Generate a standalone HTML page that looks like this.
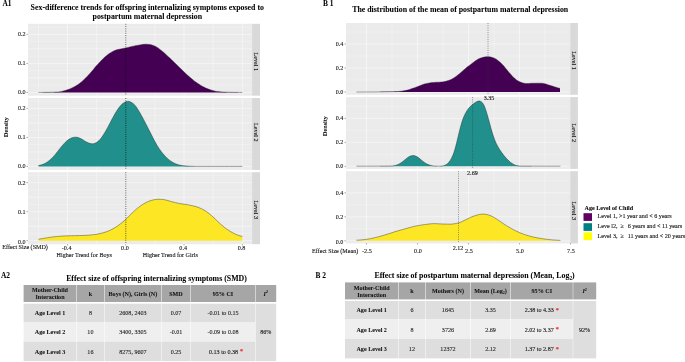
<!DOCTYPE html>
<html lang="en"><head><meta charset="utf-8"><title>Figure</title>
<style>
html,body{margin:0;padding:0;background:#fff;}
body{width:685px;height:362px;overflow:hidden;}
svg{display:block;}
svg text{font-family:"Liberation Serif","DejaVu Serif",serif;stroke:#111;stroke-width:0.1px;stroke-linejoin:round;}
</style></head><body>
<svg width="685" height="362" viewBox="0 0 685 362">
<rect width="685" height="362" fill="#fff"/>
<rect x="28.0" y="23.8" width="224.10" height="71.9" fill="#EBEBEB"/>
<rect x="252.1" y="23.8" width="7.90" height="71.9" fill="#D9D9D9"/>
<g stroke="#fff" fill="none"><path d="M38.38 23.8V95.70" stroke-width="0.38"/><path d="M96.66 23.8V95.70" stroke-width="0.38"/><path d="M154.94 23.8V95.70" stroke-width="0.38"/><path d="M213.22 23.8V95.70" stroke-width="0.38"/><path d="M67.52 23.8V95.70" stroke-width="0.5"/><path d="M125.80 23.8V95.70" stroke-width="0.5"/><path d="M184.08 23.8V95.70" stroke-width="0.5"/><path d="M242.36 23.8V95.70" stroke-width="0.5"/><path d="M28.0 85.15H252.1" stroke-width="0.25"/><path d="M28.0 70.65H252.1" stroke-width="0.25"/><path d="M28.0 56.15H252.1" stroke-width="0.25"/><path d="M28.0 41.65H252.1" stroke-width="0.25"/><path d="M28.0 27.15H252.1" stroke-width="0.25"/><path d="M28.0 92.40H252.1" stroke-width="0.45"/><path d="M28.0 77.90H252.1" stroke-width="0.45"/><path d="M28.0 63.40H252.1" stroke-width="0.45"/><path d="M28.0 48.90H252.1" stroke-width="0.45"/><path d="M28.0 34.40H252.1" stroke-width="0.45"/></g>
<rect x="28.0" y="98.0" width="224.10" height="71.9" fill="#EBEBEB"/>
<rect x="252.1" y="98.0" width="7.90" height="71.9" fill="#D9D9D9"/>
<g stroke="#fff" fill="none"><path d="M38.38 98.0V169.90" stroke-width="0.38"/><path d="M96.66 98.0V169.90" stroke-width="0.38"/><path d="M154.94 98.0V169.90" stroke-width="0.38"/><path d="M213.22 98.0V169.90" stroke-width="0.38"/><path d="M67.52 98.0V169.90" stroke-width="0.5"/><path d="M125.80 98.0V169.90" stroke-width="0.5"/><path d="M184.08 98.0V169.90" stroke-width="0.5"/><path d="M242.36 98.0V169.90" stroke-width="0.5"/><path d="M28.0 159.15H252.1" stroke-width="0.25"/><path d="M28.0 144.65H252.1" stroke-width="0.25"/><path d="M28.0 130.15H252.1" stroke-width="0.25"/><path d="M28.0 115.65H252.1" stroke-width="0.25"/><path d="M28.0 101.15H252.1" stroke-width="0.25"/><path d="M28.0 166.40H252.1" stroke-width="0.45"/><path d="M28.0 151.90H252.1" stroke-width="0.45"/><path d="M28.0 137.40H252.1" stroke-width="0.45"/><path d="M28.0 122.90H252.1" stroke-width="0.45"/><path d="M28.0 108.40H252.1" stroke-width="0.45"/></g>
<rect x="28.0" y="172.2" width="224.10" height="72.0" fill="#EBEBEB"/>
<rect x="252.1" y="172.2" width="7.90" height="72.0" fill="#D9D9D9"/>
<g stroke="#fff" fill="none"><path d="M38.38 172.2V244.20" stroke-width="0.38"/><path d="M96.66 172.2V244.20" stroke-width="0.38"/><path d="M154.94 172.2V244.20" stroke-width="0.38"/><path d="M213.22 172.2V244.20" stroke-width="0.38"/><path d="M67.52 172.2V244.20" stroke-width="0.5"/><path d="M125.80 172.2V244.20" stroke-width="0.5"/><path d="M184.08 172.2V244.20" stroke-width="0.5"/><path d="M242.36 172.2V244.20" stroke-width="0.5"/><path d="M28.0 233.45H252.1" stroke-width="0.25"/><path d="M28.0 218.95H252.1" stroke-width="0.25"/><path d="M28.0 204.45H252.1" stroke-width="0.25"/><path d="M28.0 189.95H252.1" stroke-width="0.25"/><path d="M28.0 175.45H252.1" stroke-width="0.25"/><path d="M28.0 240.70H252.1" stroke-width="0.45"/><path d="M28.0 226.20H252.1" stroke-width="0.45"/><path d="M28.0 211.70H252.1" stroke-width="0.45"/><path d="M28.0 197.20H252.1" stroke-width="0.45"/><path d="M28.0 182.70H252.1" stroke-width="0.45"/></g>
<path d="M38.40 92.40L38.40 92.40L39.68 92.40L40.97 92.39L42.25 92.38L43.53 92.37L44.82 92.36L46.10 92.34L47.38 92.31L48.66 92.29L49.95 92.26L51.23 92.23L52.51 92.19L53.80 92.15L55.08 92.11L56.36 92.06L57.65 91.99L58.93 91.88L60.21 91.71L61.49 91.47L62.78 91.17L64.06 90.83L65.34 90.44L66.63 90.04L67.91 89.61L69.19 89.14L70.48 88.63L71.76 88.06L73.04 87.44L74.32 86.76L75.61 86.03L76.89 85.26L78.17 84.42L79.46 83.50L80.74 82.50L82.02 81.40L83.31 80.23L84.59 79.01L85.87 77.74L87.15 76.44L88.44 75.09L89.72 73.69L91.00 72.22L92.29 70.70L93.57 69.16L94.85 67.62L96.14 66.12L97.42 64.67L98.70 63.27L99.98 61.90L101.27 60.56L102.55 59.25L103.83 57.99L105.12 56.80L106.40 55.70L107.68 54.70L108.97 53.78L110.25 52.93L111.53 52.14L112.82 51.43L114.10 50.81L115.38 50.29L116.66 49.86L117.95 49.52L119.23 49.22L120.51 48.96L121.80 48.72L123.08 48.48L124.36 48.24L125.65 47.97L126.93 47.68L128.21 47.38L129.49 47.07L130.78 46.75L132.06 46.45L133.34 46.15L134.63 45.88L135.91 45.62L137.19 45.38L138.48 45.14L139.76 44.91L141.04 44.70L142.32 44.51L143.61 44.37L144.89 44.28L146.17 44.24L147.46 44.28L148.74 44.39L150.02 44.59L151.31 44.87L152.59 45.22L153.87 45.65L155.15 46.19L156.44 46.88L157.72 47.71L159.00 48.64L160.29 49.64L161.57 50.67L162.85 51.74L164.14 52.85L165.42 54.00L166.70 55.19L167.98 56.39L169.27 57.59L170.55 58.81L171.83 60.04L173.12 61.28L174.40 62.52L175.68 63.76L176.97 65.00L178.25 66.25L179.53 67.50L180.82 68.76L182.10 70.02L183.38 71.27L184.66 72.50L185.95 73.71L187.23 74.89L188.51 76.03L189.80 77.15L191.08 78.26L192.36 79.33L193.65 80.38L194.93 81.38L196.21 82.33L197.49 83.23L198.78 84.08L200.06 84.89L201.34 85.67L202.63 86.42L203.91 87.12L205.19 87.77L206.48 88.35L207.76 88.87L209.04 89.34L210.32 89.78L211.61 90.18L212.89 90.55L214.17 90.89L215.46 91.17L216.74 91.39L218.02 91.57L219.31 91.71L220.59 91.82L221.87 91.91L223.15 91.99L224.44 92.06L225.72 92.12L227.00 92.17L228.29 92.20L229.57 92.23L230.85 92.26L232.14 92.29L233.42 92.31L234.70 92.33L235.98 92.35L237.27 92.37L238.55 92.38L239.83 92.39L241.12 92.40L242.40 92.40L242.40 92.40 Z" fill="#440154"/>
<path d="M38.40 92.40L39.68 92.40L40.97 92.39L42.25 92.38L43.53 92.37L44.82 92.36L46.10 92.34L47.38 92.31L48.66 92.29L49.95 92.26L51.23 92.23L52.51 92.19L53.80 92.15L55.08 92.11L56.36 92.06L57.65 91.99L58.93 91.88L60.21 91.71L61.49 91.47L62.78 91.17L64.06 90.83L65.34 90.44L66.63 90.04L67.91 89.61L69.19 89.14L70.48 88.63L71.76 88.06L73.04 87.44L74.32 86.76L75.61 86.03L76.89 85.26L78.17 84.42L79.46 83.50L80.74 82.50L82.02 81.40L83.31 80.23L84.59 79.01L85.87 77.74L87.15 76.44L88.44 75.09L89.72 73.69L91.00 72.22L92.29 70.70L93.57 69.16L94.85 67.62L96.14 66.12L97.42 64.67L98.70 63.27L99.98 61.90L101.27 60.56L102.55 59.25L103.83 57.99L105.12 56.80L106.40 55.70L107.68 54.70L108.97 53.78L110.25 52.93L111.53 52.14L112.82 51.43L114.10 50.81L115.38 50.29L116.66 49.86L117.95 49.52L119.23 49.22L120.51 48.96L121.80 48.72L123.08 48.48L124.36 48.24L125.65 47.97L126.93 47.68L128.21 47.38L129.49 47.07L130.78 46.75L132.06 46.45L133.34 46.15L134.63 45.88L135.91 45.62L137.19 45.38L138.48 45.14L139.76 44.91L141.04 44.70L142.32 44.51L143.61 44.37L144.89 44.28L146.17 44.24L147.46 44.28L148.74 44.39L150.02 44.59L151.31 44.87L152.59 45.22L153.87 45.65L155.15 46.19L156.44 46.88L157.72 47.71L159.00 48.64L160.29 49.64L161.57 50.67L162.85 51.74L164.14 52.85L165.42 54.00L166.70 55.19L167.98 56.39L169.27 57.59L170.55 58.81L171.83 60.04L173.12 61.28L174.40 62.52L175.68 63.76L176.97 65.00L178.25 66.25L179.53 67.50L180.82 68.76L182.10 70.02L183.38 71.27L184.66 72.50L185.95 73.71L187.23 74.89L188.51 76.03L189.80 77.15L191.08 78.26L192.36 79.33L193.65 80.38L194.93 81.38L196.21 82.33L197.49 83.23L198.78 84.08L200.06 84.89L201.34 85.67L202.63 86.42L203.91 87.12L205.19 87.77L206.48 88.35L207.76 88.87L209.04 89.34L210.32 89.78L211.61 90.18L212.89 90.55L214.17 90.89L215.46 91.17L216.74 91.39L218.02 91.57L219.31 91.71L220.59 91.82L221.87 91.91L223.15 91.99L224.44 92.06L225.72 92.12L227.00 92.17L228.29 92.20L229.57 92.23L230.85 92.26L232.14 92.29L233.42 92.31L234.70 92.33L235.98 92.35L237.27 92.37L238.55 92.38L239.83 92.39L241.12 92.40L242.40 92.40" fill="none" stroke="#1a1a1a" stroke-width="0.4" stroke-linejoin="round"/>
<path d="M38.40 166.40L38.40 165.49L39.68 165.30L40.97 165.00L42.25 164.60L43.53 164.11L44.82 163.52L46.10 162.80L47.38 161.96L48.66 161.01L49.95 159.94L51.23 158.77L52.51 157.50L53.80 156.13L55.08 154.66L56.36 153.08L57.65 151.43L58.93 149.79L60.21 148.17L61.49 146.60L62.78 145.08L64.06 143.64L65.34 142.32L66.63 141.11L67.91 140.04L69.19 139.12L70.48 138.39L71.76 137.86L73.04 137.49L74.32 137.25L75.61 137.16L76.89 137.26L78.17 137.55L79.46 138.00L80.74 138.57L82.02 139.27L83.31 140.07L84.59 140.91L85.87 141.70L87.15 142.35L88.44 142.89L89.72 143.32L91.00 143.63L92.29 143.78L93.57 143.70L94.85 143.33L96.14 142.71L97.42 141.87L98.70 140.80L99.98 139.47L101.27 137.89L102.55 136.09L103.83 134.14L105.12 132.04L106.40 129.78L107.68 127.40L108.97 124.97L110.25 122.53L111.53 120.10L112.82 117.69L114.10 115.34L115.38 113.12L116.66 111.03L117.95 109.06L119.23 107.25L120.51 105.67L121.80 104.37L123.08 103.32L124.36 102.47L125.65 101.81L126.93 101.39L128.21 101.28L129.49 101.49L130.78 101.99L132.06 102.72L133.34 103.67L134.63 104.89L135.91 106.44L137.19 108.31L138.48 110.40L139.76 112.59L141.04 114.83L142.32 117.12L143.61 119.48L144.89 121.91L146.17 124.38L147.46 126.91L148.74 129.48L150.02 132.05L151.31 134.60L152.59 137.12L153.87 139.58L155.15 141.98L156.44 144.28L157.72 146.42L159.00 148.42L160.29 150.27L161.57 151.99L162.85 153.59L164.14 155.07L165.42 156.45L166.70 157.73L167.98 158.90L169.27 159.96L170.55 160.92L171.83 161.78L173.12 162.55L174.40 163.23L175.68 163.81L176.97 164.30L178.25 164.72L179.53 165.07L180.82 165.35L182.10 165.57L183.38 165.73L184.66 165.86L185.95 165.96L187.23 166.05L188.51 166.12L189.80 166.19L191.08 166.25L192.36 166.30L193.65 166.35L194.93 166.38L196.21 166.39L197.49 166.40L198.78 166.40L200.06 166.40L201.34 166.40L202.63 166.40L203.91 166.40L205.19 166.40L206.48 166.40L207.76 166.40L209.04 166.40L210.32 166.40L211.61 166.40L212.89 166.40L214.17 166.40L215.46 166.40L216.74 166.40L218.02 166.40L219.31 166.40L220.59 166.40L221.87 166.40L223.15 166.40L224.44 166.40L225.72 166.40L227.00 166.40L228.29 166.40L229.57 166.40L230.85 166.40L232.14 166.40L233.42 166.40L234.70 166.40L235.98 166.40L237.27 166.40L238.55 166.40L239.83 166.40L241.12 166.40L242.40 166.40L242.40 166.40 Z" fill="#21908C"/>
<path d="M38.40 165.49L39.68 165.30L40.97 165.00L42.25 164.60L43.53 164.11L44.82 163.52L46.10 162.80L47.38 161.96L48.66 161.01L49.95 159.94L51.23 158.77L52.51 157.50L53.80 156.13L55.08 154.66L56.36 153.08L57.65 151.43L58.93 149.79L60.21 148.17L61.49 146.60L62.78 145.08L64.06 143.64L65.34 142.32L66.63 141.11L67.91 140.04L69.19 139.12L70.48 138.39L71.76 137.86L73.04 137.49L74.32 137.25L75.61 137.16L76.89 137.26L78.17 137.55L79.46 138.00L80.74 138.57L82.02 139.27L83.31 140.07L84.59 140.91L85.87 141.70L87.15 142.35L88.44 142.89L89.72 143.32L91.00 143.63L92.29 143.78L93.57 143.70L94.85 143.33L96.14 142.71L97.42 141.87L98.70 140.80L99.98 139.47L101.27 137.89L102.55 136.09L103.83 134.14L105.12 132.04L106.40 129.78L107.68 127.40L108.97 124.97L110.25 122.53L111.53 120.10L112.82 117.69L114.10 115.34L115.38 113.12L116.66 111.03L117.95 109.06L119.23 107.25L120.51 105.67L121.80 104.37L123.08 103.32L124.36 102.47L125.65 101.81L126.93 101.39L128.21 101.28L129.49 101.49L130.78 101.99L132.06 102.72L133.34 103.67L134.63 104.89L135.91 106.44L137.19 108.31L138.48 110.40L139.76 112.59L141.04 114.83L142.32 117.12L143.61 119.48L144.89 121.91L146.17 124.38L147.46 126.91L148.74 129.48L150.02 132.05L151.31 134.60L152.59 137.12L153.87 139.58L155.15 141.98L156.44 144.28L157.72 146.42L159.00 148.42L160.29 150.27L161.57 151.99L162.85 153.59L164.14 155.07L165.42 156.45L166.70 157.73L167.98 158.90L169.27 159.96L170.55 160.92L171.83 161.78L173.12 162.55L174.40 163.23L175.68 163.81L176.97 164.30L178.25 164.72L179.53 165.07L180.82 165.35L182.10 165.57L183.38 165.73L184.66 165.86L185.95 165.96L187.23 166.05L188.51 166.12L189.80 166.19L191.08 166.25L192.36 166.30L193.65 166.35L194.93 166.38L196.21 166.39L197.49 166.40L198.78 166.40L200.06 166.40L201.34 166.40L202.63 166.40L203.91 166.40L205.19 166.40L206.48 166.40L207.76 166.40L209.04 166.40L210.32 166.40L211.61 166.40L212.89 166.40L214.17 166.40L215.46 166.40L216.74 166.40L218.02 166.40L219.31 166.40L220.59 166.40L221.87 166.40L223.15 166.40L224.44 166.40L225.72 166.40L227.00 166.40L228.29 166.40L229.57 166.40L230.85 166.40L232.14 166.40L233.42 166.40L234.70 166.40L235.98 166.40L237.27 166.40L238.55 166.40L239.83 166.40L241.12 166.40L242.40 166.40" fill="none" stroke="#1a1a1a" stroke-width="0.4" stroke-linejoin="round"/>
<path d="M38.40 240.70L38.40 239.27L39.68 239.09L40.97 238.85L42.25 238.60L43.53 238.36L44.82 238.13L46.10 237.91L47.38 237.70L48.66 237.51L49.95 237.33L51.23 237.15L52.51 236.99L53.80 236.83L55.08 236.69L56.36 236.56L57.65 236.44L58.93 236.33L60.21 236.23L61.49 236.14L62.78 236.06L64.06 235.98L65.34 235.91L66.63 235.86L67.91 235.81L69.19 235.77L70.48 235.74L71.76 235.72L73.04 235.70L74.32 235.67L75.61 235.65L76.89 235.62L78.17 235.59L79.46 235.56L80.74 235.52L82.02 235.47L83.31 235.43L84.59 235.37L85.87 235.31L87.15 235.24L88.44 235.16L89.72 235.06L91.00 234.94L92.29 234.81L93.57 234.65L94.85 234.48L96.14 234.29L97.42 234.08L98.70 233.85L99.98 233.59L101.27 233.29L102.55 232.95L103.83 232.58L105.12 232.18L106.40 231.75L107.68 231.28L108.97 230.77L110.25 230.19L111.53 229.56L112.82 228.87L114.10 228.13L115.38 227.36L116.66 226.54L117.95 225.67L119.23 224.76L120.51 223.79L121.80 222.78L123.08 221.73L124.36 220.64L125.65 219.50L126.93 218.30L128.21 217.03L129.49 215.71L130.78 214.38L132.06 213.09L133.34 211.86L134.63 210.69L135.91 209.57L137.19 208.49L138.48 207.45L139.76 206.45L141.04 205.52L142.32 204.66L143.61 203.87L144.89 203.16L146.17 202.50L147.46 201.89L148.74 201.33L150.02 200.85L151.31 200.44L152.59 200.09L153.87 199.79L155.15 199.55L156.44 199.37L157.72 199.28L159.00 199.26L160.29 199.30L161.57 199.39L162.85 199.51L164.14 199.67L165.42 199.90L166.70 200.21L167.98 200.58L169.27 200.97L170.55 201.36L171.83 201.73L173.12 202.06L174.40 202.38L175.68 202.68L176.97 202.97L178.25 203.24L179.53 203.49L180.82 203.72L182.10 203.92L183.38 204.11L184.66 204.29L185.95 204.48L187.23 204.69L188.51 204.91L189.80 205.15L191.08 205.41L192.36 205.69L193.65 205.99L194.93 206.33L196.21 206.70L197.49 207.12L198.78 207.59L200.06 208.12L201.34 208.69L202.63 209.32L203.91 210.01L205.19 210.78L206.48 211.63L207.76 212.57L209.04 213.57L210.32 214.61L211.61 215.70L212.89 216.83L214.17 218.01L215.46 219.25L216.74 220.50L218.02 221.73L219.31 222.93L220.59 224.09L221.87 225.20L223.15 226.29L224.44 227.33L225.72 228.33L227.00 229.27L228.29 230.15L229.57 230.97L230.85 231.74L232.14 232.47L233.42 233.15L234.70 233.78L235.98 234.36L237.27 234.89L238.55 235.37L239.83 235.81L241.12 236.17L242.40 236.43L242.40 240.70 Z" fill="#FDE725"/>
<path d="M38.40 239.27L39.68 239.09L40.97 238.85L42.25 238.60L43.53 238.36L44.82 238.13L46.10 237.91L47.38 237.70L48.66 237.51L49.95 237.33L51.23 237.15L52.51 236.99L53.80 236.83L55.08 236.69L56.36 236.56L57.65 236.44L58.93 236.33L60.21 236.23L61.49 236.14L62.78 236.06L64.06 235.98L65.34 235.91L66.63 235.86L67.91 235.81L69.19 235.77L70.48 235.74L71.76 235.72L73.04 235.70L74.32 235.67L75.61 235.65L76.89 235.62L78.17 235.59L79.46 235.56L80.74 235.52L82.02 235.47L83.31 235.43L84.59 235.37L85.87 235.31L87.15 235.24L88.44 235.16L89.72 235.06L91.00 234.94L92.29 234.81L93.57 234.65L94.85 234.48L96.14 234.29L97.42 234.08L98.70 233.85L99.98 233.59L101.27 233.29L102.55 232.95L103.83 232.58L105.12 232.18L106.40 231.75L107.68 231.28L108.97 230.77L110.25 230.19L111.53 229.56L112.82 228.87L114.10 228.13L115.38 227.36L116.66 226.54L117.95 225.67L119.23 224.76L120.51 223.79L121.80 222.78L123.08 221.73L124.36 220.64L125.65 219.50L126.93 218.30L128.21 217.03L129.49 215.71L130.78 214.38L132.06 213.09L133.34 211.86L134.63 210.69L135.91 209.57L137.19 208.49L138.48 207.45L139.76 206.45L141.04 205.52L142.32 204.66L143.61 203.87L144.89 203.16L146.17 202.50L147.46 201.89L148.74 201.33L150.02 200.85L151.31 200.44L152.59 200.09L153.87 199.79L155.15 199.55L156.44 199.37L157.72 199.28L159.00 199.26L160.29 199.30L161.57 199.39L162.85 199.51L164.14 199.67L165.42 199.90L166.70 200.21L167.98 200.58L169.27 200.97L170.55 201.36L171.83 201.73L173.12 202.06L174.40 202.38L175.68 202.68L176.97 202.97L178.25 203.24L179.53 203.49L180.82 203.72L182.10 203.92L183.38 204.11L184.66 204.29L185.95 204.48L187.23 204.69L188.51 204.91L189.80 205.15L191.08 205.41L192.36 205.69L193.65 205.99L194.93 206.33L196.21 206.70L197.49 207.12L198.78 207.59L200.06 208.12L201.34 208.69L202.63 209.32L203.91 210.01L205.19 210.78L206.48 211.63L207.76 212.57L209.04 213.57L210.32 214.61L211.61 215.70L212.89 216.83L214.17 218.01L215.46 219.25L216.74 220.50L218.02 221.73L219.31 222.93L220.59 224.09L221.87 225.20L223.15 226.29L224.44 227.33L225.72 228.33L227.00 229.27L228.29 230.15L229.57 230.97L230.85 231.74L232.14 232.47L233.42 233.15L234.70 233.78L235.98 234.36L237.27 234.89L238.55 235.37L239.83 235.81L241.12 236.17L242.40 236.43" fill="none" stroke="#1a1a1a" stroke-width="0.4" stroke-linejoin="round"/>
<path d="M125.8 23.8V95.70" stroke="#000" stroke-width="0.62" stroke-dasharray="1 1.25" fill="none"/>
<path d="M125.8 98.0V169.90" stroke="#000" stroke-width="0.62" stroke-dasharray="1 1.25" fill="none"/>
<path d="M125.8 172.2V244.10" stroke="#000" stroke-width="0.62" stroke-dasharray="1 1.25" fill="none"/>
<path d="M26.4 92.40H28.0" stroke="#333" stroke-width="0.4"/>
<text x="25.6" y="94.4" text-anchor="end" fill="#111" style="font-size:6.1px;stroke:#111">0.0</text>
<path d="M26.4 63.40H28.0" stroke="#333" stroke-width="0.4"/>
<text x="25.6" y="65.4" text-anchor="end" fill="#111" style="font-size:6.1px;stroke:#111">0.1</text>
<path d="M26.4 34.40H28.0" stroke="#333" stroke-width="0.4"/>
<text x="25.6" y="36.4" text-anchor="end" fill="#111" style="font-size:6.1px;stroke:#111">0.2</text>
<path d="M26.4 166.40H28.0" stroke="#333" stroke-width="0.4"/>
<text x="25.6" y="168.4" text-anchor="end" fill="#111" style="font-size:6.1px;stroke:#111">0.0</text>
<path d="M26.4 137.40H28.0" stroke="#333" stroke-width="0.4"/>
<text x="25.6" y="139.4" text-anchor="end" fill="#111" style="font-size:6.1px;stroke:#111">0.1</text>
<path d="M26.4 108.40H28.0" stroke="#333" stroke-width="0.4"/>
<text x="25.6" y="110.4" text-anchor="end" fill="#111" style="font-size:6.1px;stroke:#111">0.2</text>
<path d="M26.4 240.70H28.0" stroke="#333" stroke-width="0.4"/>
<text x="25.6" y="243.7" text-anchor="end" fill="#111" style="font-size:6.1px;stroke:#111">0.0</text>
<path d="M26.4 211.70H28.0" stroke="#333" stroke-width="0.4"/>
<text x="25.6" y="213.7" text-anchor="end" fill="#111" style="font-size:6.1px;stroke:#111">0.1</text>
<path d="M26.4 182.70H28.0" stroke="#333" stroke-width="0.4"/>
<text x="25.6" y="184.7" text-anchor="end" fill="#111" style="font-size:6.1px;stroke:#111">0.2</text>
<path d="M67.52 244.10v1.4" stroke="#333" stroke-width="0.4"/>
<text x="66.62" y="250.4" text-anchor="middle" fill="#111" style="font-size:6.1px;stroke:#111">-0.4</text>
<path d="M125.80 244.10v1.4" stroke="#333" stroke-width="0.4"/>
<text x="124.9" y="250.4" text-anchor="middle" fill="#111" style="font-size:6.1px;stroke:#111">0.0</text>
<path d="M184.08 244.10v1.4" stroke="#333" stroke-width="0.4"/>
<text x="183.18" y="250.4" text-anchor="middle" fill="#111" style="font-size:6.1px;stroke:#111">0.4</text>
<path d="M242.36 244.10v1.4" stroke="#333" stroke-width="0.4"/>
<text x="241.46" y="250.4" text-anchor="middle" fill="#111" style="font-size:6.1px;stroke:#111">0.8</text>
<text transform="translate(8.3 127.0) rotate(-90)" text-anchor="middle" fill="#000" style="font-size:6.2px;font-weight:bold;stroke-width:.04px;stroke:#000">Density</text>
<text transform="translate(253.8 61.8) rotate(90)" text-anchor="middle" fill="#111" style="font-size:6.2px;stroke:#111">Level 1</text>
<text transform="translate(253.8 132.3) rotate(90)" text-anchor="middle" fill="#111" style="font-size:6.2px;stroke:#111">Level 2</text>
<text transform="translate(253.8 209.8) rotate(90)" text-anchor="middle" fill="#111" style="font-size:6.2px;stroke:#111">Level 3</text>
<text x="2.3" y="248.7" text-anchor="start" fill="#111" style="font-size:6.1px;stroke:#111">Effect Size (SMD)</text>
<text x="84.3" y="257.4" text-anchor="middle" fill="#111" style="font-size:6.1px;stroke:#111">Higher Trend for Boys</text>
<text x="170.3" y="257.0" text-anchor="middle" fill="#111" style="font-size:6.1px;stroke:#111">Higher Trend for Girls</text>
<text x="2.4" y="5.9" text-anchor="start" fill="#000" style="font-size:7.4px;font-weight:bold;stroke-width:.04px;stroke:#000">A1</text>
<text x="147.3" y="9.9" text-anchor="middle" fill="#000" style="font-size:7.87px;font-weight:bold;stroke-width:.04px;stroke:#000">Sex-difference trends for offspring internalizing symptoms exposed to</text>
<text x="147.3" y="19.3" text-anchor="middle" fill="#000" style="font-size:7.87px;font-weight:bold;stroke-width:.04px;stroke:#000">postpartum maternal depression</text>
<rect x="346.0" y="23.0" width="224.20" height="71.8" fill="#EBEBEB"/>
<rect x="570.2" y="23.0" width="7.70" height="71.8" fill="#D9D9D9"/>
<g stroke="#fff" fill="none"><path d="M392.00 23.0V94.80" stroke-width="0.38"/><path d="M443.00 23.0V94.80" stroke-width="0.38"/><path d="M494.00 23.0V94.80" stroke-width="0.38"/><path d="M545.00 23.0V94.80" stroke-width="0.38"/><path d="M366.50 23.0V94.80" stroke-width="0.5"/><path d="M417.50 23.0V94.80" stroke-width="0.5"/><path d="M468.50 23.0V94.80" stroke-width="0.5"/><path d="M519.50 23.0V94.80" stroke-width="0.5"/><path d="M346.0 80.00H570.2" stroke-width="0.25"/><path d="M346.0 56.00H570.2" stroke-width="0.25"/><path d="M346.0 32.00H570.2" stroke-width="0.25"/><path d="M346.0 92.00H570.2" stroke-width="0.45"/><path d="M346.0 68.00H570.2" stroke-width="0.45"/><path d="M346.0 44.00H570.2" stroke-width="0.45"/></g>
<rect x="346.0" y="97.1" width="224.20" height="71.8" fill="#EBEBEB"/>
<rect x="570.2" y="97.1" width="7.70" height="71.8" fill="#D9D9D9"/>
<g stroke="#fff" fill="none"><path d="M392.00 97.1V168.90" stroke-width="0.38"/><path d="M443.00 97.1V168.90" stroke-width="0.38"/><path d="M494.00 97.1V168.90" stroke-width="0.38"/><path d="M545.00 97.1V168.90" stroke-width="0.38"/><path d="M366.50 97.1V168.90" stroke-width="0.5"/><path d="M417.50 97.1V168.90" stroke-width="0.5"/><path d="M468.50 97.1V168.90" stroke-width="0.5"/><path d="M519.50 97.1V168.90" stroke-width="0.5"/><path d="M346.0 154.35H570.2" stroke-width="0.25"/><path d="M346.0 130.35H570.2" stroke-width="0.25"/><path d="M346.0 106.35H570.2" stroke-width="0.25"/><path d="M346.0 166.35H570.2" stroke-width="0.45"/><path d="M346.0 142.35H570.2" stroke-width="0.45"/><path d="M346.0 118.35H570.2" stroke-width="0.45"/></g>
<rect x="346.0" y="171.2" width="224.20" height="72.2" fill="#EBEBEB"/>
<rect x="570.2" y="171.2" width="7.70" height="72.2" fill="#D9D9D9"/>
<g stroke="#fff" fill="none"><path d="M392.00 171.2V243.40" stroke-width="0.38"/><path d="M443.00 171.2V243.40" stroke-width="0.38"/><path d="M494.00 171.2V243.40" stroke-width="0.38"/><path d="M545.00 171.2V243.40" stroke-width="0.38"/><path d="M366.50 171.2V243.40" stroke-width="0.5"/><path d="M417.50 171.2V243.40" stroke-width="0.5"/><path d="M468.50 171.2V243.40" stroke-width="0.5"/><path d="M519.50 171.2V243.40" stroke-width="0.5"/><path d="M346.0 228.80H570.2" stroke-width="0.25"/><path d="M346.0 204.80H570.2" stroke-width="0.25"/><path d="M346.0 180.80H570.2" stroke-width="0.25"/><path d="M346.0 240.80H570.2" stroke-width="0.45"/><path d="M346.0 216.80H570.2" stroke-width="0.45"/><path d="M346.0 192.80H570.2" stroke-width="0.45"/></g>
<path d="M356.40 92.00L356.40 92.00L357.68 92.00L358.96 92.00L360.24 92.00L361.52 91.99L362.80 91.99L364.08 91.99L365.36 91.98L366.64 91.98L367.92 91.97L369.21 91.96L370.49 91.96L371.77 91.95L373.05 91.94L374.33 91.93L375.61 91.92L376.89 91.90L378.17 91.89L379.45 91.88L380.73 91.86L382.01 91.84L383.29 91.83L384.57 91.81L385.85 91.79L387.13 91.77L388.41 91.75L389.69 91.73L390.97 91.70L392.25 91.68L393.53 91.65L394.82 91.62L396.10 91.58L397.38 91.52L398.66 91.42L399.94 91.30L401.22 91.14L402.50 90.96L403.78 90.77L405.06 90.55L406.34 90.30L407.62 90.00L408.90 89.65L410.18 89.26L411.46 88.82L412.74 88.37L414.02 87.91L415.30 87.44L416.58 86.98L417.86 86.49L419.14 85.99L420.43 85.48L421.71 84.98L422.99 84.52L424.27 84.10L425.55 83.75L426.83 83.46L428.11 83.21L429.39 82.98L430.67 82.79L431.95 82.62L433.23 82.49L434.51 82.39L435.79 82.31L437.07 82.25L438.35 82.19L439.63 82.13L440.91 82.05L442.19 81.93L443.47 81.76L444.75 81.52L446.04 81.22L447.32 80.86L448.60 80.45L449.88 79.98L451.16 79.42L452.44 78.76L453.72 77.99L455.00 77.15L456.28 76.24L457.56 75.29L458.84 74.29L460.12 73.23L461.40 72.10L462.68 70.95L463.96 69.80L465.24 68.68L466.52 67.62L467.80 66.61L469.08 65.64L470.36 64.68L471.65 63.73L472.93 62.78L474.21 61.79L475.49 60.81L476.77 59.90L478.05 59.14L479.33 58.55L480.61 58.08L481.89 57.67L483.17 57.32L484.45 57.03L485.73 56.83L487.01 56.72L488.29 56.71L489.57 56.84L490.85 57.08L492.13 57.43L493.41 57.86L494.69 58.41L495.97 59.11L497.26 59.96L498.54 60.94L499.82 62.04L501.10 63.21L502.38 64.48L503.66 65.87L504.94 67.38L506.22 68.97L507.50 70.58L508.78 72.14L510.06 73.61L511.34 75.02L512.62 76.38L513.90 77.68L515.18 78.86L516.46 79.89L517.74 80.74L519.02 81.44L520.30 82.04L521.58 82.55L522.87 82.98L524.15 83.29L525.43 83.47L526.71 83.53L527.99 83.51L529.27 83.44L530.55 83.37L531.83 83.29L533.11 83.24L534.39 83.21L535.67 83.20L536.95 83.20L538.23 83.20L539.51 83.20L540.79 83.22L542.07 83.28L543.35 83.42L544.63 83.67L545.91 84.03L547.19 84.44L548.48 84.88L549.76 85.30L551.04 85.71L552.32 86.10L553.60 86.50L554.88 86.90L556.16 87.32L557.44 87.73L558.72 88.11L560.00 88.40L560.00 92.00 Z" fill="#440154"/>
<path d="M356.40 92.00L357.68 92.00L358.96 92.00L360.24 92.00L361.52 91.99L362.80 91.99L364.08 91.99L365.36 91.98L366.64 91.98L367.92 91.97L369.21 91.96L370.49 91.96L371.77 91.95L373.05 91.94L374.33 91.93L375.61 91.92L376.89 91.90L378.17 91.89L379.45 91.88L380.73 91.86L382.01 91.84L383.29 91.83L384.57 91.81L385.85 91.79L387.13 91.77L388.41 91.75L389.69 91.73L390.97 91.70L392.25 91.68L393.53 91.65L394.82 91.62L396.10 91.58L397.38 91.52L398.66 91.42L399.94 91.30L401.22 91.14L402.50 90.96L403.78 90.77L405.06 90.55L406.34 90.30L407.62 90.00L408.90 89.65L410.18 89.26L411.46 88.82L412.74 88.37L414.02 87.91L415.30 87.44L416.58 86.98L417.86 86.49L419.14 85.99L420.43 85.48L421.71 84.98L422.99 84.52L424.27 84.10L425.55 83.75L426.83 83.46L428.11 83.21L429.39 82.98L430.67 82.79L431.95 82.62L433.23 82.49L434.51 82.39L435.79 82.31L437.07 82.25L438.35 82.19L439.63 82.13L440.91 82.05L442.19 81.93L443.47 81.76L444.75 81.52L446.04 81.22L447.32 80.86L448.60 80.45L449.88 79.98L451.16 79.42L452.44 78.76L453.72 77.99L455.00 77.15L456.28 76.24L457.56 75.29L458.84 74.29L460.12 73.23L461.40 72.10L462.68 70.95L463.96 69.80L465.24 68.68L466.52 67.62L467.80 66.61L469.08 65.64L470.36 64.68L471.65 63.73L472.93 62.78L474.21 61.79L475.49 60.81L476.77 59.90L478.05 59.14L479.33 58.55L480.61 58.08L481.89 57.67L483.17 57.32L484.45 57.03L485.73 56.83L487.01 56.72L488.29 56.71L489.57 56.84L490.85 57.08L492.13 57.43L493.41 57.86L494.69 58.41L495.97 59.11L497.26 59.96L498.54 60.94L499.82 62.04L501.10 63.21L502.38 64.48L503.66 65.87L504.94 67.38L506.22 68.97L507.50 70.58L508.78 72.14L510.06 73.61L511.34 75.02L512.62 76.38L513.90 77.68L515.18 78.86L516.46 79.89L517.74 80.74L519.02 81.44L520.30 82.04L521.58 82.55L522.87 82.98L524.15 83.29L525.43 83.47L526.71 83.53L527.99 83.51L529.27 83.44L530.55 83.37L531.83 83.29L533.11 83.24L534.39 83.21L535.67 83.20L536.95 83.20L538.23 83.20L539.51 83.20L540.79 83.22L542.07 83.28L543.35 83.42L544.63 83.67L545.91 84.03L547.19 84.44L548.48 84.88L549.76 85.30L551.04 85.71L552.32 86.10L553.60 86.50L554.88 86.90L556.16 87.32L557.44 87.73L558.72 88.11L560.00 88.40" fill="none" stroke="#1a1a1a" stroke-width="0.4" stroke-linejoin="round"/>
<path d="M356.40 166.35L356.40 166.20L357.68 166.20L358.97 166.20L360.25 166.20L361.53 166.20L362.82 166.20L364.10 166.19L365.38 166.19L366.66 166.19L367.95 166.19L369.23 166.18L370.51 166.18L371.80 166.17L373.08 166.17L374.36 166.16L375.65 166.16L376.93 166.15L378.21 166.14L379.49 166.13L380.78 166.12L382.06 166.11L383.34 166.10L384.63 166.09L385.91 166.07L387.19 166.06L388.48 166.04L389.76 166.03L391.04 165.99L392.32 165.91L393.61 165.76L394.89 165.50L396.17 165.15L397.46 164.71L398.74 164.15L400.02 163.44L401.31 162.59L402.59 161.65L403.87 160.65L405.15 159.61L406.44 158.56L407.72 157.58L409.00 156.74L410.29 156.10L411.57 155.66L412.85 155.48L414.14 155.59L415.42 155.98L416.70 156.58L417.98 157.37L419.27 158.32L420.55 159.37L421.83 160.42L423.12 161.43L424.40 162.38L425.68 163.26L426.97 164.00L428.25 164.59L429.53 165.05L430.82 165.41L432.10 165.69L433.38 165.88L434.66 166.01L435.95 166.09L437.23 166.14L438.51 166.16L439.80 166.15L441.08 166.07L442.36 165.90L443.65 165.63L444.93 165.23L446.21 164.61L447.49 163.66L448.78 162.34L450.06 160.63L451.34 158.50L452.63 155.84L453.91 152.47L455.19 148.27L456.48 143.35L457.76 138.03L459.04 132.67L460.32 127.54L461.61 122.96L462.89 119.09L464.17 115.91L465.46 113.27L466.74 111.04L468.02 109.15L469.31 107.55L470.59 106.19L471.87 105.04L473.15 104.03L474.44 103.09L475.72 102.22L477.00 101.50L478.29 101.06L479.57 101.02L480.85 101.43L482.14 102.40L483.42 104.13L484.70 106.82L485.98 110.43L487.27 114.69L488.55 119.32L489.83 124.05L491.12 128.67L492.40 133.03L493.68 136.99L494.97 140.46L496.25 143.42L497.53 145.96L498.82 148.20L500.10 150.21L501.38 152.08L502.66 153.83L503.95 155.48L505.23 157.04L506.51 158.50L507.80 159.86L509.08 161.09L510.36 162.18L511.65 163.12L512.93 163.94L514.21 164.63L515.49 165.20L516.78 165.62L518.06 165.87L519.34 165.99L520.63 166.03L521.91 166.04L523.19 166.06L524.48 166.07L525.76 166.08L527.04 166.09L528.32 166.10L529.61 166.11L530.89 166.12L532.17 166.13L533.46 166.14L534.74 166.15L536.02 166.15L537.31 166.16L538.59 166.16L539.87 166.17L541.15 166.17L542.44 166.18L543.72 166.18L545.00 166.19L546.29 166.19L547.57 166.19L548.85 166.19L550.14 166.19L551.42 166.20L552.70 166.20L553.98 166.20L555.27 166.20L556.55 166.20L557.83 166.20L559.12 166.20L560.40 166.20L560.40 166.35 Z" fill="#21908C"/>
<path d="M356.40 166.20L357.68 166.20L358.97 166.20L360.25 166.20L361.53 166.20L362.82 166.20L364.10 166.19L365.38 166.19L366.66 166.19L367.95 166.19L369.23 166.18L370.51 166.18L371.80 166.17L373.08 166.17L374.36 166.16L375.65 166.16L376.93 166.15L378.21 166.14L379.49 166.13L380.78 166.12L382.06 166.11L383.34 166.10L384.63 166.09L385.91 166.07L387.19 166.06L388.48 166.04L389.76 166.03L391.04 165.99L392.32 165.91L393.61 165.76L394.89 165.50L396.17 165.15L397.46 164.71L398.74 164.15L400.02 163.44L401.31 162.59L402.59 161.65L403.87 160.65L405.15 159.61L406.44 158.56L407.72 157.58L409.00 156.74L410.29 156.10L411.57 155.66L412.85 155.48L414.14 155.59L415.42 155.98L416.70 156.58L417.98 157.37L419.27 158.32L420.55 159.37L421.83 160.42L423.12 161.43L424.40 162.38L425.68 163.26L426.97 164.00L428.25 164.59L429.53 165.05L430.82 165.41L432.10 165.69L433.38 165.88L434.66 166.01L435.95 166.09L437.23 166.14L438.51 166.16L439.80 166.15L441.08 166.07L442.36 165.90L443.65 165.63L444.93 165.23L446.21 164.61L447.49 163.66L448.78 162.34L450.06 160.63L451.34 158.50L452.63 155.84L453.91 152.47L455.19 148.27L456.48 143.35L457.76 138.03L459.04 132.67L460.32 127.54L461.61 122.96L462.89 119.09L464.17 115.91L465.46 113.27L466.74 111.04L468.02 109.15L469.31 107.55L470.59 106.19L471.87 105.04L473.15 104.03L474.44 103.09L475.72 102.22L477.00 101.50L478.29 101.06L479.57 101.02L480.85 101.43L482.14 102.40L483.42 104.13L484.70 106.82L485.98 110.43L487.27 114.69L488.55 119.32L489.83 124.05L491.12 128.67L492.40 133.03L493.68 136.99L494.97 140.46L496.25 143.42L497.53 145.96L498.82 148.20L500.10 150.21L501.38 152.08L502.66 153.83L503.95 155.48L505.23 157.04L506.51 158.50L507.80 159.86L509.08 161.09L510.36 162.18L511.65 163.12L512.93 163.94L514.21 164.63L515.49 165.20L516.78 165.62L518.06 165.87L519.34 165.99L520.63 166.03L521.91 166.04L523.19 166.06L524.48 166.07L525.76 166.08L527.04 166.09L528.32 166.10L529.61 166.11L530.89 166.12L532.17 166.13L533.46 166.14L534.74 166.15L536.02 166.15L537.31 166.16L538.59 166.16L539.87 166.17L541.15 166.17L542.44 166.18L543.72 166.18L545.00 166.19L546.29 166.19L547.57 166.19L548.85 166.19L550.14 166.19L551.42 166.20L552.70 166.20L553.98 166.20L555.27 166.20L556.55 166.20L557.83 166.20L559.12 166.20L560.40 166.20" fill="none" stroke="#1a1a1a" stroke-width="0.4" stroke-linejoin="round"/>
<path d="M356.40 240.80L356.40 240.17L357.68 240.13L358.97 240.07L360.25 239.98L361.53 239.87L362.82 239.74L364.10 239.61L365.38 239.46L366.66 239.29L367.95 239.10L369.23 238.88L370.51 238.63L371.80 238.36L373.08 238.08L374.36 237.78L375.65 237.48L376.93 237.16L378.21 236.84L379.49 236.49L380.78 236.14L382.06 235.77L383.34 235.39L384.63 235.01L385.91 234.62L387.19 234.23L388.48 233.82L389.76 233.41L391.04 232.99L392.32 232.57L393.61 232.15L394.89 231.75L396.17 231.36L397.46 230.98L398.74 230.61L400.02 230.24L401.31 229.88L402.59 229.53L403.87 229.18L405.15 228.83L406.44 228.48L407.72 228.12L409.00 227.77L410.29 227.41L411.57 227.07L412.85 226.74L414.14 226.43L415.42 226.14L416.70 225.88L417.98 225.63L419.27 225.40L420.55 225.19L421.83 224.98L423.12 224.79L424.40 224.61L425.68 224.44L426.97 224.27L428.25 224.11L429.53 223.95L430.82 223.81L432.10 223.71L433.38 223.65L434.66 223.64L435.95 223.67L437.23 223.73L438.51 223.80L439.80 223.88L441.08 223.95L442.36 224.01L443.65 224.05L444.93 224.10L446.21 224.13L447.49 224.16L448.78 224.18L450.06 224.16L451.34 224.11L452.63 224.00L453.91 223.84L455.19 223.63L456.48 223.39L457.76 223.10L459.04 222.74L460.32 222.30L461.61 221.76L462.89 221.15L464.17 220.51L465.46 219.87L466.74 219.25L468.02 218.63L469.31 218.01L470.59 217.40L471.87 216.84L473.15 216.34L474.44 215.89L475.72 215.48L477.00 215.10L478.29 214.76L479.57 214.47L480.85 214.24L482.14 214.12L483.42 214.10L484.70 214.20L485.98 214.39L487.27 214.67L488.55 215.01L489.83 215.42L491.12 215.91L492.40 216.52L493.68 217.23L494.97 218.03L496.25 218.86L497.53 219.70L498.82 220.54L500.10 221.40L501.38 222.27L502.66 223.16L503.95 224.03L505.23 224.88L506.51 225.70L507.80 226.49L509.08 227.26L510.36 228.01L511.65 228.73L512.93 229.42L514.21 230.09L515.49 230.73L516.78 231.34L518.06 231.93L519.34 232.50L520.63 233.04L521.91 233.54L523.19 234.02L524.48 234.48L525.76 234.91L527.04 235.33L528.32 235.71L529.61 236.08L530.89 236.42L532.17 236.74L533.46 237.05L534.74 237.34L536.02 237.61L537.31 237.86L538.59 238.09L539.87 238.31L541.15 238.52L542.44 238.72L543.72 238.90L545.00 239.07L546.29 239.23L547.57 239.38L548.85 239.52L550.14 239.65L551.42 239.77L552.70 239.89L553.98 239.99L555.27 240.09L556.55 240.18L557.83 240.26L559.12 240.32L560.40 240.37L560.40 240.80 Z" fill="#FDE725"/>
<path d="M356.40 240.17L357.68 240.13L358.97 240.07L360.25 239.98L361.53 239.87L362.82 239.74L364.10 239.61L365.38 239.46L366.66 239.29L367.95 239.10L369.23 238.88L370.51 238.63L371.80 238.36L373.08 238.08L374.36 237.78L375.65 237.48L376.93 237.16L378.21 236.84L379.49 236.49L380.78 236.14L382.06 235.77L383.34 235.39L384.63 235.01L385.91 234.62L387.19 234.23L388.48 233.82L389.76 233.41L391.04 232.99L392.32 232.57L393.61 232.15L394.89 231.75L396.17 231.36L397.46 230.98L398.74 230.61L400.02 230.24L401.31 229.88L402.59 229.53L403.87 229.18L405.15 228.83L406.44 228.48L407.72 228.12L409.00 227.77L410.29 227.41L411.57 227.07L412.85 226.74L414.14 226.43L415.42 226.14L416.70 225.88L417.98 225.63L419.27 225.40L420.55 225.19L421.83 224.98L423.12 224.79L424.40 224.61L425.68 224.44L426.97 224.27L428.25 224.11L429.53 223.95L430.82 223.81L432.10 223.71L433.38 223.65L434.66 223.64L435.95 223.67L437.23 223.73L438.51 223.80L439.80 223.88L441.08 223.95L442.36 224.01L443.65 224.05L444.93 224.10L446.21 224.13L447.49 224.16L448.78 224.18L450.06 224.16L451.34 224.11L452.63 224.00L453.91 223.84L455.19 223.63L456.48 223.39L457.76 223.10L459.04 222.74L460.32 222.30L461.61 221.76L462.89 221.15L464.17 220.51L465.46 219.87L466.74 219.25L468.02 218.63L469.31 218.01L470.59 217.40L471.87 216.84L473.15 216.34L474.44 215.89L475.72 215.48L477.00 215.10L478.29 214.76L479.57 214.47L480.85 214.24L482.14 214.12L483.42 214.10L484.70 214.20L485.98 214.39L487.27 214.67L488.55 215.01L489.83 215.42L491.12 215.91L492.40 216.52L493.68 217.23L494.97 218.03L496.25 218.86L497.53 219.70L498.82 220.54L500.10 221.40L501.38 222.27L502.66 223.16L503.95 224.03L505.23 224.88L506.51 225.70L507.80 226.49L509.08 227.26L510.36 228.01L511.65 228.73L512.93 229.42L514.21 230.09L515.49 230.73L516.78 231.34L518.06 231.93L519.34 232.50L520.63 233.04L521.91 233.54L523.19 234.02L524.48 234.48L525.76 234.91L527.04 235.33L528.32 235.71L529.61 236.08L530.89 236.42L532.17 236.74L533.46 237.05L534.74 237.34L536.02 237.61L537.31 237.86L538.59 238.09L539.87 238.31L541.15 238.52L542.44 238.72L543.72 238.90L545.00 239.07L546.29 239.23L547.57 239.38L548.85 239.52L550.14 239.65L551.42 239.77L552.70 239.89L553.98 239.99L555.27 240.09L556.55 240.18L557.83 240.26L559.12 240.32L560.40 240.37" fill="none" stroke="#1a1a1a" stroke-width="0.4" stroke-linejoin="round"/>
<path d="M488.0 23.0V94.80" stroke="#333" stroke-width="0.5" stroke-dasharray="1 1.25" fill="none"/>
<path d="M472.6 97.1V168.90" stroke="#333" stroke-width="0.5" stroke-dasharray="1 1.25" fill="none"/>
<path d="M458.5 171.2V243.00" stroke="#333" stroke-width="0.5" stroke-dasharray="1 1.25" fill="none"/>
<path d="M344.4 92.00H346.0" stroke="#333" stroke-width="0.4"/>
<text x="343.4" y="94.0" text-anchor="end" fill="#111" style="font-size:6.1px;stroke:#111">0.0</text>
<path d="M344.4 68.00H346.0" stroke="#333" stroke-width="0.4"/>
<text x="343.4" y="70.0" text-anchor="end" fill="#111" style="font-size:6.1px;stroke:#111">0.2</text>
<path d="M344.4 44.00H346.0" stroke="#333" stroke-width="0.4"/>
<text x="343.4" y="46.0" text-anchor="end" fill="#111" style="font-size:6.1px;stroke:#111">0.4</text>
<path d="M344.4 166.35H346.0" stroke="#333" stroke-width="0.4"/>
<text x="343.4" y="168.35" text-anchor="end" fill="#111" style="font-size:6.1px;stroke:#111">0.0</text>
<path d="M344.4 142.35H346.0" stroke="#333" stroke-width="0.4"/>
<text x="343.4" y="144.35" text-anchor="end" fill="#111" style="font-size:6.1px;stroke:#111">0.2</text>
<path d="M344.4 118.35H346.0" stroke="#333" stroke-width="0.4"/>
<text x="343.4" y="120.35" text-anchor="end" fill="#111" style="font-size:6.1px;stroke:#111">0.4</text>
<path d="M344.4 240.80H346.0" stroke="#333" stroke-width="0.4"/>
<text x="343.4" y="243.8" text-anchor="end" fill="#111" style="font-size:6.1px;stroke:#111">0.0</text>
<path d="M344.4 216.80H346.0" stroke="#333" stroke-width="0.4"/>
<text x="343.4" y="218.8" text-anchor="end" fill="#111" style="font-size:6.1px;stroke:#111">0.2</text>
<path d="M344.4 192.80H346.0" stroke="#333" stroke-width="0.4"/>
<text x="343.4" y="194.8" text-anchor="end" fill="#111" style="font-size:6.1px;stroke:#111">0.4</text>
<path d="M366.50 243.00v1.4" stroke="#333" stroke-width="0.4"/>
<text x="366.9" y="252.7" text-anchor="middle" fill="#111" style="font-size:6.1px;stroke:#111">-2.5</text>
<path d="M417.50 243.00v1.4" stroke="#333" stroke-width="0.4"/>
<text x="417.9" y="252.7" text-anchor="middle" fill="#111" style="font-size:6.1px;stroke:#111">0.0</text>
<path d="M468.50 243.00v1.4" stroke="#333" stroke-width="0.4"/>
<text x="468.9" y="252.7" text-anchor="middle" fill="#111" style="font-size:6.1px;stroke:#111">2.5</text>
<path d="M519.50 243.00v1.4" stroke="#333" stroke-width="0.4"/>
<text x="519.9" y="252.7" text-anchor="middle" fill="#111" style="font-size:6.1px;stroke:#111">5.0</text>
<path d="M570.50 243.00v1.4" stroke="#333" stroke-width="0.4"/>
<text x="570.9" y="252.7" text-anchor="middle" fill="#111" style="font-size:6.1px;stroke:#111">7.5</text>
<text x="489.0" y="99.7" text-anchor="middle" fill="#111" style="font-size:6.1px;stroke:#111">3.35</text>
<text x="472.4" y="174.9" text-anchor="middle" fill="#111" style="font-size:6.1px;stroke:#111">2.69</text>
<text x="458.0" y="249.9" text-anchor="middle" fill="#111" style="font-size:6.1px;stroke:#111">2.12</text>
<text transform="translate(326.6 126.0) rotate(-90)" text-anchor="middle" fill="#000" style="font-size:6.2px;font-weight:bold;stroke-width:.04px;stroke:#000">Density</text>
<text transform="translate(571.9 60.599999999999994) rotate(90)" text-anchor="middle" fill="#111" style="font-size:6.2px;stroke:#111">Level 1</text>
<text transform="translate(571.9 132.8) rotate(90)" text-anchor="middle" fill="#111" style="font-size:6.2px;stroke:#111">Level 2</text>
<text transform="translate(571.9 210.8) rotate(90)" text-anchor="middle" fill="#111" style="font-size:6.2px;stroke:#111">Level 3</text>
<text x="312.0" y="252.5" text-anchor="start" fill="#111" style="font-size:6.1px;stroke:#111">Effect Size (Mean)</text>
<text x="323.0" y="6.2" text-anchor="start" fill="#000" style="font-size:7.4px;font-weight:bold;stroke-width:.04px;stroke:#000">B 1</text>
<text x="460.2" y="12.3" text-anchor="middle" fill="#000" style="font-size:7.86px;font-weight:bold;stroke-width:.04px;stroke:#000">The distribution of the mean of postpartum maternal depression</text>
<text x="584.6" y="210.3" text-anchor="start" fill="#000" style="font-size:6.1px;font-weight:bold;stroke-width:.04px;stroke:#000">Age Level of Child</text>
<rect x="583.5" y="213.2" width="8.5" height="7.7" fill="#600064"/>
<rect x="583.5" y="223.2" width="8.5" height="7.7" fill="#007F80"/>
<rect x="583.5" y="232.4" width="8.5" height="7.7" fill="#FFFF00"/>
<text x="597.5" y="218.3" text-anchor="start" fill="#111" style="font-size:6.1px;stroke:#111">Level 1, &gt;1 year and &lt; 6 years</text>
<text x="597.5" y="228.3" fill="#111" style="font-size:6.1px">Leve l2, <tspan x="620.6" style="font-weight:bold;stroke-width:.04px">≥</tspan><tspan x="627.7">6 years and &lt; 11 years</tspan></text>
<text x="597.5" y="238.4" fill="#111" style="font-size:6.1px">Level 3, <tspan x="620.6" style="font-weight:bold;stroke-width:.04px">≥</tspan><tspan x="627.7">11 years and &lt; 20 years</tspan></text>
<rect x="23.60" y="285.0" width="52.58" height="17.00" fill="#A6A6A6"/>
<rect x="23.60" y="303.7" width="52.58" height="18.30" fill="#DEDEDE"/>
<rect x="23.60" y="322.0" width="52.58" height="19.60" fill="#EFEFEF"/>
<rect x="23.60" y="341.6" width="52.58" height="19.50" fill="#DEDEDE"/>
<rect x="76.62" y="285.0" width="27.56" height="17.00" fill="#A6A6A6"/>
<rect x="76.62" y="303.7" width="27.56" height="18.30" fill="#DEDEDE"/>
<rect x="76.62" y="322.0" width="27.56" height="19.60" fill="#EFEFEF"/>
<rect x="76.62" y="341.6" width="27.56" height="19.50" fill="#DEDEDE"/>
<rect x="104.62" y="285.0" width="56.56" height="17.00" fill="#A6A6A6"/>
<rect x="104.62" y="303.7" width="56.56" height="18.30" fill="#DEDEDE"/>
<rect x="104.62" y="322.0" width="56.56" height="19.60" fill="#EFEFEF"/>
<rect x="104.62" y="341.6" width="56.56" height="19.50" fill="#DEDEDE"/>
<rect x="161.62" y="285.0" width="28.76" height="17.00" fill="#A6A6A6"/>
<rect x="161.62" y="303.7" width="28.76" height="18.30" fill="#DEDEDE"/>
<rect x="161.62" y="322.0" width="28.76" height="19.60" fill="#EFEFEF"/>
<rect x="161.62" y="341.6" width="28.76" height="19.50" fill="#DEDEDE"/>
<rect x="190.82" y="285.0" width="64.36" height="17.00" fill="#A6A6A6"/>
<rect x="190.82" y="303.7" width="64.36" height="18.30" fill="#DEDEDE"/>
<rect x="190.82" y="322.0" width="64.36" height="19.60" fill="#EFEFEF"/>
<rect x="190.82" y="341.6" width="64.36" height="19.50" fill="#DEDEDE"/>
<rect x="255.62" y="285.0" width="20.58" height="17.00" fill="#A6A6A6"/>
<rect x="255.62" y="303.7" width="20.58" height="57.40" fill="#DEDEDE"/>
<text x="50.0" y="292.3" text-anchor="middle" fill="#111" style="font-size:6.1px;font-weight:bold;stroke-width:.04px;stroke:#111">Mother-Child</text>
<text x="50.0" y="299.3" text-anchor="middle" fill="#111" style="font-size:6.1px;font-weight:bold;stroke-width:.04px;stroke:#111">Interaction</text>
<text x="90.4" y="295.60" text-anchor="middle" fill="#111" style="font-size:6.1px;font-weight:bold;stroke-width:.04px">k</text>
<text x="132.9" y="295.60" text-anchor="middle" fill="#111" style="font-size:6.1px;font-weight:bold;stroke-width:.04px">Boys (N), Girls (N)</text>
<text x="176.0" y="295.60" text-anchor="middle" fill="#111" style="font-size:6.1px;font-weight:bold;stroke-width:.04px">SMD</text>
<text x="223.0" y="295.60" text-anchor="middle" fill="#111" style="font-size:6.1px;font-weight:bold;stroke-width:.04px">95% CI</text>
<text x="265.8" y="295.60" text-anchor="middle" fill="#111" style="font-size:6.1px;font-weight:bold;stroke-width:.04px;font-style:italic">I<tspan dy="-2.2" style="font-size:4px">2</tspan></text>
<text x="50.0" y="314.95" text-anchor="middle" fill="#111" style="font-size:6.1px;font-weight:bold;stroke-width:.04px;stroke:#111">Age Level 1</text>
<text x="90.4" y="314.95" text-anchor="middle" fill="#222" style="font-size:6.1px;stroke:#222">8</text>
<text x="132.9" y="314.95" text-anchor="middle" fill="#222" style="font-size:6.1px;stroke:#222">2608, 2403</text>
<text x="176.0" y="314.95" text-anchor="middle" fill="#222" style="font-size:6.1px;stroke:#222">0.07</text>
<text x="223.0" y="314.95" text-anchor="middle" fill="#222" style="font-size:6.1px;stroke:#222">-0.01 to 0.15</text>
<text x="50.0" y="334.1" text-anchor="middle" fill="#111" style="font-size:6.1px;font-weight:bold;stroke-width:.04px;stroke:#111">Age Level 2</text>
<text x="90.4" y="334.1" text-anchor="middle" fill="#222" style="font-size:6.1px;stroke:#222">10</text>
<text x="132.9" y="334.1" text-anchor="middle" fill="#222" style="font-size:6.1px;stroke:#222">3400, 3305</text>
<text x="176.0" y="334.1" text-anchor="middle" fill="#222" style="font-size:6.1px;stroke:#222">-0.01</text>
<text x="223.0" y="334.1" text-anchor="middle" fill="#222" style="font-size:6.1px;stroke:#222">-0.09 to 0.08</text>
<text x="50.0" y="353.55" text-anchor="middle" fill="#111" style="font-size:6.1px;font-weight:bold;stroke-width:.04px;stroke:#111">Age Level 3</text>
<text x="90.4" y="353.55" text-anchor="middle" fill="#222" style="font-size:6.1px;stroke:#222">16</text>
<text x="132.9" y="353.55" text-anchor="middle" fill="#222" style="font-size:6.1px;stroke:#222">8275, 9607</text>
<text x="176.0" y="353.55" text-anchor="middle" fill="#222" style="font-size:6.1px;stroke:#222">0.25</text>
<text x="223.5" y="353.55" text-anchor="middle" fill="#111" style="font-size:6.1px;stroke:#111">0.13 to 0.38</text>
<text x="241.47" y="353.15" text-anchor="middle" fill="#f0202c" style="font-size:7.0px;font-weight:bold;stroke-width:.04px;stroke:#f0202c">*</text>
<text x="265.8" y="334.2" text-anchor="middle" fill="#111" style="font-size:6.1px;stroke:#111">86%</text>
<text x="156.5" y="280.6" text-anchor="middle" style="font-size:7.86px;font-weight:bold;stroke-width:.04px">Effect size of offspring internalizing symptoms (SMD)</text>
<text x="1.0" y="277.6" text-anchor="start" fill="#000" style="font-size:7.4px;font-weight:bold;stroke-width:.04px;stroke:#000">A2</text>
<rect x="345.00" y="282.4" width="53.18" height="17.00" fill="#A6A6A6"/>
<rect x="345.00" y="301.0" width="53.18" height="18.00" fill="#DEDEDE"/>
<rect x="345.00" y="319.0" width="53.18" height="20.00" fill="#EFEFEF"/>
<rect x="345.00" y="339.0" width="53.18" height="19.40" fill="#DEDEDE"/>
<rect x="398.62" y="282.4" width="26.56" height="17.00" fill="#A6A6A6"/>
<rect x="398.62" y="301.0" width="26.56" height="18.00" fill="#DEDEDE"/>
<rect x="398.62" y="319.0" width="26.56" height="20.00" fill="#EFEFEF"/>
<rect x="398.62" y="339.0" width="26.56" height="19.40" fill="#DEDEDE"/>
<rect x="425.62" y="282.4" width="44.66" height="17.00" fill="#A6A6A6"/>
<rect x="425.62" y="301.0" width="44.66" height="18.00" fill="#DEDEDE"/>
<rect x="425.62" y="319.0" width="44.66" height="20.00" fill="#EFEFEF"/>
<rect x="425.62" y="339.0" width="44.66" height="19.40" fill="#DEDEDE"/>
<rect x="470.72" y="282.4" width="39.66" height="17.00" fill="#A6A6A6"/>
<rect x="470.72" y="301.0" width="39.66" height="18.00" fill="#DEDEDE"/>
<rect x="470.72" y="319.0" width="39.66" height="20.00" fill="#EFEFEF"/>
<rect x="470.72" y="339.0" width="39.66" height="19.40" fill="#DEDEDE"/>
<rect x="510.82" y="282.4" width="61.96" height="17.00" fill="#A6A6A6"/>
<rect x="510.82" y="301.0" width="61.96" height="18.00" fill="#DEDEDE"/>
<rect x="510.82" y="319.0" width="61.96" height="20.00" fill="#EFEFEF"/>
<rect x="510.82" y="339.0" width="61.96" height="19.40" fill="#DEDEDE"/>
<rect x="573.22" y="282.4" width="22.98" height="17.00" fill="#A6A6A6"/>
<rect x="573.22" y="301.0" width="22.98" height="57.40" fill="#DEDEDE"/>
<text x="371.7" y="289.7" text-anchor="middle" fill="#111" style="font-size:6.1px;font-weight:bold;stroke-width:.04px;stroke:#111">Mother-Child</text>
<text x="371.7" y="296.7" text-anchor="middle" fill="#111" style="font-size:6.1px;font-weight:bold;stroke-width:.04px;stroke:#111">Interaction</text>
<text x="411.9" y="293.00" text-anchor="middle" fill="#111" style="font-size:6.1px;font-weight:bold;stroke-width:.04px">k</text>
<text x="447.95" y="293.00" text-anchor="middle" fill="#111" style="font-size:6.1px;font-weight:bold;stroke-width:.04px">Mothers (N)</text>
<text x="490.55" y="293.00" text-anchor="middle" fill="#111" style="font-size:6.1px;font-weight:bold;stroke-width:.04px">Mean (Log<tspan dy="1.3" style="font-size:4px">2</tspan><tspan dy="-1.3">)</tspan></text>
<text x="541.8" y="293.00" text-anchor="middle" fill="#111" style="font-size:6.1px;font-weight:bold;stroke-width:.04px">95% CI</text>
<text x="584.6" y="293.00" text-anchor="middle" fill="#111" style="font-size:6.1px;font-weight:bold;stroke-width:.04px;font-style:italic">I<tspan dy="-2.2" style="font-size:4px">2</tspan></text>
<text x="371.7" y="312.1" text-anchor="middle" fill="#111" style="font-size:6.1px;font-weight:bold;stroke-width:.04px;stroke:#111">Age Level 1</text>
<text x="411.9" y="312.1" text-anchor="middle" fill="#222" style="font-size:6.1px;stroke:#222">6</text>
<text x="447.95" y="312.1" text-anchor="middle" fill="#222" style="font-size:6.1px;stroke:#222">1645</text>
<text x="490.55" y="312.1" text-anchor="middle" fill="#222" style="font-size:6.1px;stroke:#222">3.35</text>
<text x="539.2" y="312.1" text-anchor="middle" fill="#111" style="font-size:6.1px;stroke:#111">2.38 to 4.33</text>
<text x="557.17" y="311.7" text-anchor="middle" fill="#f0202c" style="font-size:7.0px;font-weight:bold;stroke-width:.04px;stroke:#f0202c">*</text>
<text x="371.7" y="331.8" text-anchor="middle" fill="#111" style="font-size:6.1px;font-weight:bold;stroke-width:.04px;stroke:#111">Age Level 2</text>
<text x="411.9" y="331.8" text-anchor="middle" fill="#222" style="font-size:6.1px;stroke:#222">8</text>
<text x="447.95" y="331.8" text-anchor="middle" fill="#222" style="font-size:6.1px;stroke:#222">3726</text>
<text x="490.55" y="331.8" text-anchor="middle" fill="#222" style="font-size:6.1px;stroke:#222">2.69</text>
<text x="539.2" y="331.8" text-anchor="middle" fill="#111" style="font-size:6.1px;stroke:#111">2.02 to 3.37</text>
<text x="557.17" y="331.4" text-anchor="middle" fill="#f0202c" style="font-size:7.0px;font-weight:bold;stroke-width:.04px;stroke:#f0202c">*</text>
<text x="371.7" y="351.1" text-anchor="middle" fill="#111" style="font-size:6.1px;font-weight:bold;stroke-width:.04px;stroke:#111">Age Level 3</text>
<text x="411.9" y="351.1" text-anchor="middle" fill="#222" style="font-size:6.1px;stroke:#222">12</text>
<text x="447.95" y="351.1" text-anchor="middle" fill="#222" style="font-size:6.1px;stroke:#222">12372</text>
<text x="490.55" y="351.1" text-anchor="middle" fill="#222" style="font-size:6.1px;stroke:#222">2.12</text>
<text x="539.2" y="351.1" text-anchor="middle" fill="#111" style="font-size:6.1px;stroke:#111">1.37 to 2.87</text>
<text x="557.17" y="350.7" text-anchor="middle" fill="#f0202c" style="font-size:7.0px;font-weight:bold;stroke-width:.04px;stroke:#f0202c">*</text>
<text x="584.6" y="331.5" text-anchor="middle" fill="#111" style="font-size:6.1px;stroke:#111">92%</text>
<text x="374.4" y="278.0" text-anchor="start" style="font-size:7.86px;font-weight:bold;stroke-width:.04px">Effect size of postpartum maternal depression (Mean, Log<tspan dy="1.6" style="font-size:5.2px">2</tspan><tspan dy="-1.6">)</tspan></text>
<text x="315.6" y="277.6" text-anchor="start" fill="#000" style="font-size:7.4px;font-weight:bold;stroke-width:.04px;stroke:#000">B 2</text>
</svg>
</body></html>
